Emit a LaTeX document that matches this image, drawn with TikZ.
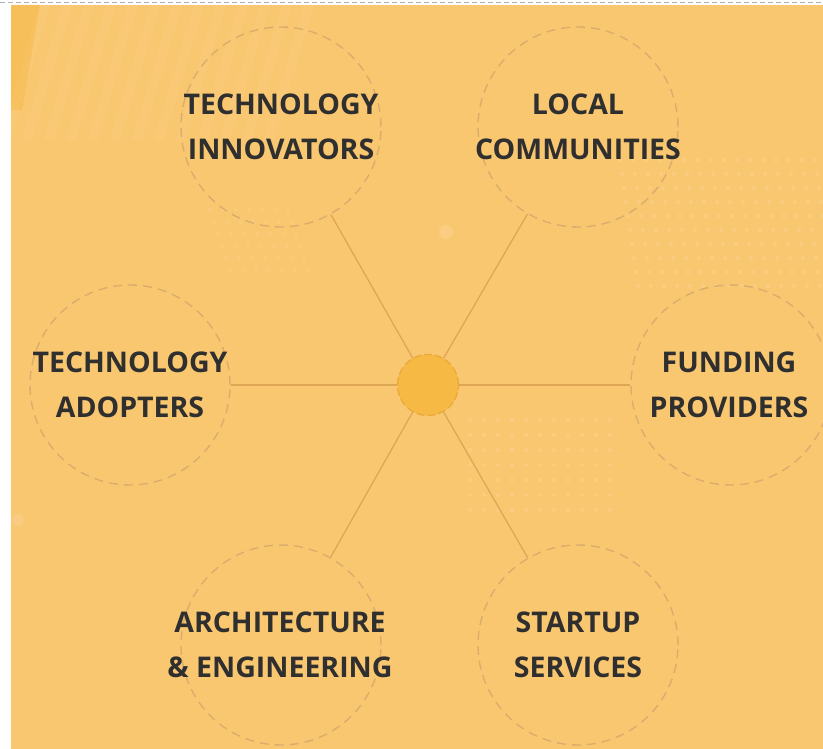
\documentclass[tikz,border=0pt]{standalone}
\usepackage{fontspec}
\newfontfamily\lblfont{Open Sans}
\definecolor{bgc}{HTML}{FAC771}
\definecolor{hubc}{HTML}{F6B944}
\definecolor{hubedge}{HTML}{E9A838}
\definecolor{ringc}{HTML}{D9AE6C}
\definecolor{spokec}{HTML}{DDA755}
\definecolor{txtc}{HTML}{2F2F2F}
\begin{document}
\begin{tikzpicture}[x=1pt,y=-1pt,
  ring/.style={circle,minimum size=200pt,inner sep=0pt,draw=ringc,line width=1.4pt,
     dash pattern=on 9pt off 6pt},
  lbl/.style={align=center,text=txtc,inner sep=0pt,
     font=\lblfont\bfseries\fontsize{28.5}{45}\selectfont},
  hub/.style={circle,minimum size=61pt,inner sep=0pt,fill=hubc,draw=hubedge,line width=1.2pt,dash pattern=on 8pt off 3pt},
  spoke/.style={draw=spokec,line width=1.3pt},
  dotf/.style={fill=white,opacity=0.09}]
\useasboundingbox (0,0) rectangle (823,749);
\fill[white] (0,0) rectangle (823,749);
\draw[gray!60,dash pattern=on 5pt off 3pt,line width=0.8pt] (0,2) -- (823,2);
\fill[bgc] (11,5) rectangle (823,749);
% top-left darker corner and light stripes
\fill[hubc,opacity=0.5] (11,5) -- (40,5) -- (22,110) -- (11,110) -- cycle;
\foreach \i in {0,...,12}{
  \fill[white,opacity=0.04] (40+\i*22,5) -- (50+\i*22,5) -- (10+\i*22,140) -- (0+\i*22,140) -- cycle;
}
% dot fields
\foreach \r in {0,...,9}{
  \foreach \c in {0,...,16}{
    \fill[dotf] (620+\c*13+\r*2,160+\r*14) circle (2.2pt);
  }
}
\foreach \r in {0,...,6}{
  \foreach \c in {0,...,10}{
    \fill[dotf] (470+\c*14,420+\r*15) circle (2.2pt);
  }
}
\foreach \r in {0,...,5}{
  \foreach \c in {0,...,6}{
    \fill[dotf] (210+\c*13+\r*4,210+\r*12) circle (1.8pt);
  }
}
\fill[white,opacity=0.12] (446,232) circle (7pt);
\fill[white,opacity=0.1] (18,520) circle (6pt);
% circles
\node[hub] (c) at (428,385) {};
\node[ring] (ti) at (281,127) {};
\node[ring] (lc) at (578,127) {};
\node[ring] (ta) at (130,385) {};
\node[ring] (fp) at (731,385) {};
\node[ring] (ae) at (281,645) {};
\node[ring] (ss) at (578,645) {};
% labels
\node[lbl] (tiL) at (281,127) {TECHNOLOGY\\INNOVATORS};
\node[lbl] (lcL) at (578,127) {LOCAL\\COMMUNITIES};
\node[lbl] (taL) at (130,385) {TECHNOLOGY\\ADOPTERS};
\node[lbl] (fpL) at (729,385) {FUNDING\\PROVIDERS};
\node[lbl] (aeL) at (280,645) {ARCHITECTURE\\\& ENGINEERING};
\node[lbl] (ssL) at (578,645) {STARTUP\\SERVICES};
% spokes
\foreach \n in {ti,lc,ta,fp,ae,ss}{
  \draw[spoke] (c) -- (\n);
}
\end{tikzpicture}
\end{document}
